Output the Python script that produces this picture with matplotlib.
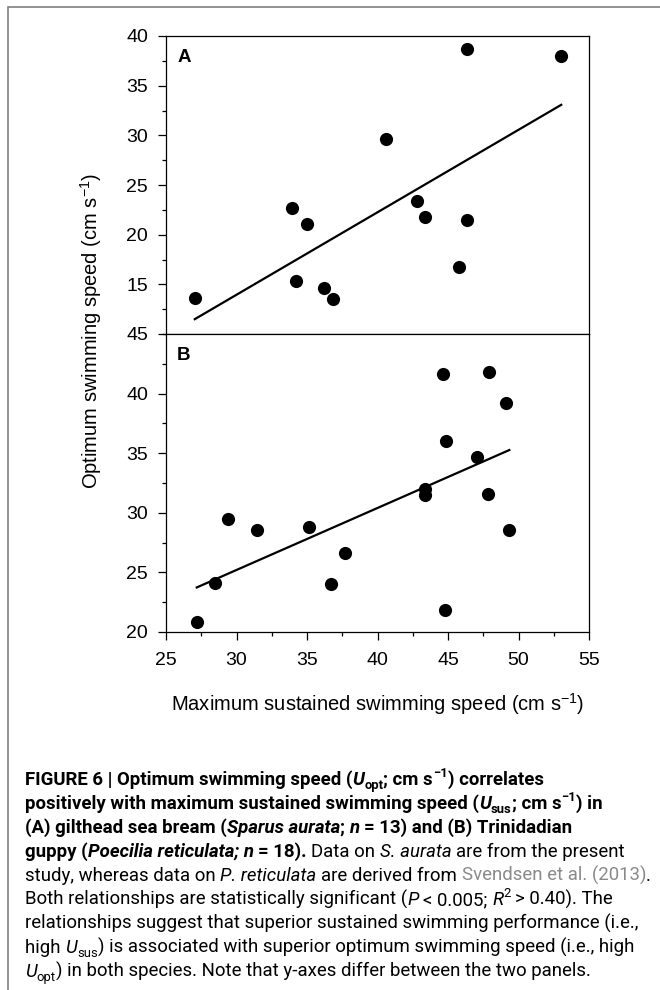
import matplotlib
matplotlib.use('Agg')
import matplotlib.pyplot as plt
import numpy as np
from matplotlib import font_manager
from matplotlib.patches import Rectangle
from matplotlib.ticker import MultipleLocator, FixedLocator

# ---------------- data ----------------
a_x = [27.04, 33.94, 34.98, 34.20, 36.20, 36.83, 40.60, 42.80, 43.40, 46.36, 46.36, 45.80, 53.03]
a_y = [13.6, 22.7, 21.07, 15.3, 14.63, 13.5, 29.6, 23.43, 21.8, 38.67, 21.5, 16.77, 38.0]

b_x = [27.18, 28.47, 29.41, 31.46, 35.14, 37.72, 36.71, 43.40, 43.40, 44.67, 44.86,
       44.81, 47.09, 47.91, 47.84, 49.13, 49.35]
b_y = [20.86, 24.08, 29.48, 28.53, 28.84, 26.65, 24.05, 32.0, 31.52, 41.62, 36.02,
       21.82, 34.71, 41.84, 31.55, 39.18, 28.56]

x_ticks = [25, 30, 35, 40, 45, 50, 55]
a_yticks = [15, 20, 25, 30, 35, 40]
b_yticks = [20, 25, 30, 35, 40, 45]
a_ylim = (10, 40)
b_ylim = (20, 45)
x_lim = (25, 55)
panel_labels = ['A', 'B']

x_label = 'Maximum sustained swimming speed (cm s$^{-1}$)'
y_label = 'Optimum swimming speed (cm s$^{-1}$)'

# ---------------- styling ----------------
W, H, DPI = 660, 990, 100
plt.rcParams['font.family'] = ['Liberation Sans', 'DejaVu Sans']
plt.rcParams['mathtext.fontset'] = 'custom'
plt.rcParams['mathtext.rm'] = 'Liberation Sans'
plt.rcParams['mathtext.it'] = 'Liberation Sans:italic'
plt.rcParams['mathtext.bf'] = 'Liberation Sans:bold'

fig = plt.figure(figsize=(W / DPI, H / DPI), dpi=DPI)

def fx(px):
    return px / W

def fy(py):
    return 1 - py / H

left, right = 166, 589
a_top, mid, b_bot = 36, 334, 632

ax_a = fig.add_axes([fx(left), fy(mid), (right - left) / W, (mid - a_top) / H])
ax_b = fig.add_axes([fx(left), fy(b_bot), (right - left) / W, (b_bot - mid) / H])

tick_fs = 14
for ax, xs, ys, yt, yl, lab in [(ax_a, a_x, a_y, a_yticks, a_ylim, panel_labels[0]),
                                (ax_b, b_x, b_y, b_yticks, b_ylim, panel_labels[1])]:
    ax.scatter(xs, ys, s=90, color='black', zorder=3, linewidths=0)
    coef = np.polyfit(xs, ys, 1)
    xl = np.array([min(xs), max(xs)])
    ax.plot(xl, np.polyval(coef, xl), color='black', lw=1.6, zorder=2)
    ax.set_xlim(*x_lim)
    ax.set_ylim(*yl)
    ax.yaxis.set_major_locator(FixedLocator(yt))
    ax.yaxis.set_minor_locator(MultipleLocator(2.5))
    ax.xaxis.set_major_locator(FixedLocator(x_ticks))
    ax.xaxis.set_minor_locator(MultipleLocator(2.5))
    ax.tick_params(axis='both', which='major', direction='out', length=5.5, width=0.9,
                   labelsize=tick_fs, color='black')
    ax.tick_params(axis='both', which='minor', direction='out', length=3.2, width=0.9)
    ax.tick_params(axis='y', which='major', pad=7.5)
    ax.tick_params(axis='x', which='major', pad=9)
    for sp in ax.spines.values():
        sp.set_linewidth(0.9)
    ax.annotate(lab, xy=(0, 1), xycoords='axes fraction', xytext=(8, -18.8),
                textcoords='offset points', fontsize=13.5, fontweight='bold',
                ha='left', va='baseline')

ax_a.tick_params(axis='x', which='both', bottom=False, labelbottom=False)
ax_a.set_yticklabels([str(v) for v in a_yticks])
ax_b.set_yticklabels([str(v) for v in b_yticks])
ax_b.set_xticklabels([str(v) for v in x_ticks])

fig.text(fx((left + right) / 2), fy(711), x_label, fontsize=14.5, ha='center', va='baseline')
fig.text(fx(98), fy(331), y_label, fontsize=14.5, ha='center', va='baseline',
         rotation=90, rotation_mode='anchor')

# figure frame
fig.patches.append(Rectangle((fx(8), -0.05), 1.2, fy(7) + 0.05, transform=fig.transFigure,
                             fill=False, edgecolor='#7f7f7f', lw=1.2))

# ---------------- caption ----------------
names = {f.name for f in font_manager.fontManager.ttflist}
cap_font = 'Liberation Sans Narrow' if 'Liberation Sans Narrow' in names else 'Roboto'
cap_family = [cap_font, 'DejaVu Sans']
gray = '#8a8a8a'

# segment: (text, weight, style, position, color)
def S(t, w='normal', s='normal', p='base', c='black'):
    return (t, w, s, p, c)

B, I = 'bold', 'italic'
caption = [
    [S('FIGURE 6 | Optimum swimming speed (', B), S('U', B, I), S('opt', B, p='sub'),
     S('; cm s', B), S('\u22121', B, p='sup'), S(') correlates', B)],
    [S('positively with maximum sustained swimming speed (', B), S('U', B, I), S('sus', B, p='sub'),
     S('; cm s', B), S('\u22121', B, p='sup'), S(') in', B)],
    [S('(A) gilthead sea bream (', B), S('Sparus aurata', B, I), S('; ', B), S('n', B, I),
     S(' = 13) and (B) Trinidadian', B)],
    [S('guppy (', B), S('Poecilia reticulata; n', B, I), S(' = 18).', B),
     S(' Data on '), S('S. aurata', s=I), S(' are from the present')],
    [S('study, whereas data on '), S('P. reticulata', s=I), S(' are derived from '),
     S('Svendsen et al. (2013)', c=gray), S('.')],
    [S('Both relationships are statistically significant ('), S('P', s=I), S(' < 0.005; '),
     S('R', s=I), S('2', p='sup'), S(' > 0.40). The')],
    [S('relationships suggest that superior sustained swimming performance (i.e.,')],
    [S('high '), S('U', s=I), S('sus', p='sub'), S(') is associated with superior optimum swimming speed (i.e., high')],
    [S('U', s=I), S('opt', p='sub'), S(') in both species. Note that y-axes differ between the two panels.')],
]

renderer = fig.canvas.get_renderer()

def text_w(s, fs, w, st):
    if s == '':
        return 0.0
    t = fig.text(0, 0, 'x' + s + 'x', fontsize=fs, fontweight=w, fontstyle=st, family=cap_family)
    t2 = fig.text(0, 0, 'xx', fontsize=fs, fontweight=w, fontstyle=st, family=cap_family)
    wd = t.get_window_extent(renderer).width - t2.get_window_extent(renderer).width
    t.remove(); t2.remove()
    return wd

def seg_size(fs, p):
    return fs * 0.7 if p in ('sub', 'sup') else fs

def line_width(segs, fs):
    return sum(text_w(t, seg_size(fs, p), w, st) for t, w, st, p, c in segs)

def draw_line(segs, x0, base, fs):
    x = x0
    for t, w, st, p, c in segs:
        size = seg_size(fs, p)
        dy = 0.0
        if p == 'sub':
            dy = -0.2 * fs * DPI / 72
        elif p == 'sup':
            dy = 0.42 * fs * DPI / 72
        stripped = t.lstrip(' ')
        lead = len(t) - len(stripped)
        if lead:
            x += text_w(' ' * lead, size, w, st)
        fig.text(fx(x), fy(base - dy), stripped, fontsize=size, fontweight=w, fontstyle=st,
                 family=cap_family, color=c, ha='left', va='baseline')
        x += text_w(stripped, size, w, st)

ref_w = line_width(caption[4], 10)
cap_fs = 10 * (626.0 / ref_w)

cap_x = 25
base0 = 785
step = 24
for i, segs in enumerate(caption):
    draw_line(segs, cap_x, base0 + i * step, cap_fs)

fig.savefig('out.png', dpi=DPI)
